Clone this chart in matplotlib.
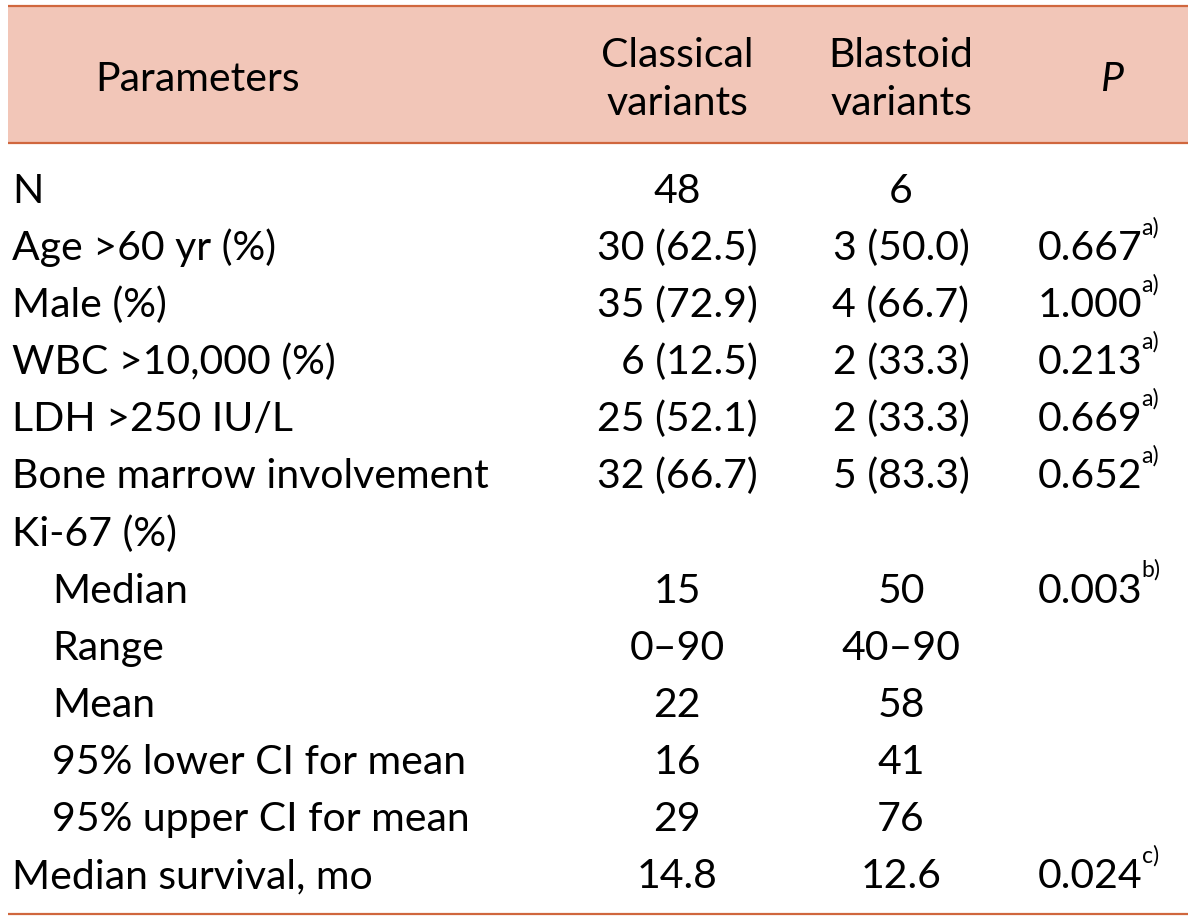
import matplotlib

matplotlib.use("Agg")
import matplotlib.pyplot as plt

# Table content
params = [
    "N",
    "Age >60 yr (%)",
    "Male (%)",
    "WBC >10,000 (%)",
    "LDH >250 IU/L",
    "Bone marrow involvement",
    "Ki-67 (%)",
    "Median",
    "Range",
    "Mean",
    "95% lower CI for mean",
    "95% upper CI for mean",
    "Median survival, mo",
]
indented = [0, 0, 0, 0, 0, 0, 0, 1, 1, 1, 1, 1, 0]
classical = ["48", "30 (62.5)", "35 (72.9)", "6 (12.5)", "25 (52.1)", "32 (66.7)",
             "", "15", "0\u201390", "22", "16", "29", "14.8"]
blastoid = ["6", "3 (50.0)", "4 (66.7)", "2 (33.3)", "2 (33.3)", "5 (83.3)",
            "", "50", "40\u201390", "58", "41", "76", "12.6"]
p_values = ["", "0.667", "1.000", "0.213", "0.669", "0.652",
            "", "0.003", "", "", "", "", "0.024"]
p_notes = ["", "a)", "a)", "a)", "a)", "a)", "", "b)", "", "", "", "", "c)"]

FONT = "Lato"
FS = 29.5
HEAD_FILL = "#f2c6b8"
RULE = "#d0673e"

fig = plt.figure(figsize=(12, 9.2), dpi=100)
ax = fig.add_axes([0, 0, 1, 1])
ax.set_xlim(0, 1200)
ax.set_ylim(920, 0)
ax.axis("off")

# header band and rules
ax.fill_between([8, 1188], 8, 143, color=HEAD_FILL, lw=0)
ax.plot([8, 1188], [7, 7], color=RULE, lw=1.6, solid_capstyle="butt")
ax.plot([8, 1188], [144, 144], color=RULE, lw=1.6, solid_capstyle="butt")
ax.plot([8, 1188], [915, 915], color=RULE, lw=1.6, solid_capstyle="butt")

txt = dict(fontsize=FS, family=FONT, color="black", va="baseline")
ax.text(198, 91, "Parameters", ha="center", **txt)
ax.text(677, 67, "Classical", ha="center", **txt)
ax.text(677, 115, "variants", ha="center", **txt)
ax.text(901, 67, "Blastoid", ha="center", **txt)
ax.text(901, 115, "variants", ha="center", **txt)
ax.text(1112, 91, "P", ha="center", style="italic", **txt)

col_x = [677, 901]
p_left = 1038
first_base = 203
row_h = 57.1

fig.canvas.draw()
renderer = fig.canvas.get_renderer()


def text_width(s):
    t = ax.text(0, 0, s, **txt)
    w = t.get_window_extent(renderer).width
    t.remove()
    return w


for ci, col in enumerate([classical, blastoid]):
    paren_w = max(text_width(v) for v in col if "(" in v)
    for i, v in enumerate(col):
        y = first_base + i * row_h
        if "(" in v:
            ax.text(col_x[ci] + paren_w / 2, y, v, ha="right", **txt)
        elif v:
            ax.text(col_x[ci], y, v, ha="center", **txt)

for i, name in enumerate(params):
    y = first_base + i * row_h
    ax.text(52 if indented[i] else 12, y, name, ha="left", **txt)
    if p_values[i]:
        t = ax.text(p_left, y, p_values[i], ha="left", **txt)
        bb = t.get_window_extent(renderer)
        ax.text(p_left + bb.width - 1, y - 26, p_notes[i], ha="left",
                fontsize=FS * 0.56, family=FONT, color="black", va="baseline")

fig.savefig("out.png", dpi=100)
